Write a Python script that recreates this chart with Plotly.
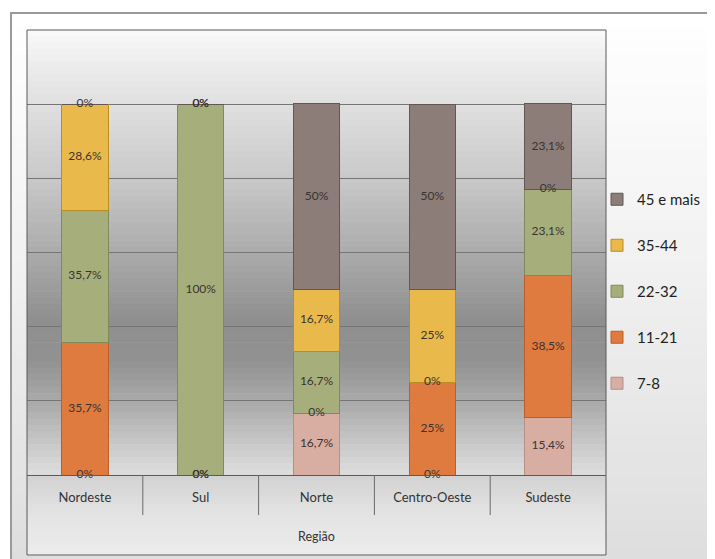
import plotly.graph_objects as go

regions = ["Nordeste", "Sul", "Norte", "Centro-Oeste", "Sudeste"]
series_names = ["7-8", "11-21", "22-32", "35-44", "45 e mais"]
v_7_8 = [0, 0, 16.7, 0, 15.4]
v_11_21 = [35.7, 0, 0, 25, 38.5]
v_22_32 = [35.7, 100, 16.7, 0, 23.1]
v_35_44 = [28.6, 0, 16.7, 25, 0]
v_45_mais = [0, 0, 50, 50, 23.1]
series_values = [v_7_8, v_11_21, v_22_32, v_35_44, v_45_mais]

colors = ["#D8AEA3", "#E07B3F", "#A6AF7C", "#E9B94C", "#8C7D78"]
line_colors = ["#B38F86", "#B95F2B", "#80895B", "#BC8C24", "#625754"]

OFF = 8  # page body margin
W, H = 715 - OFF, 559 - OFF
L, R, T, B = 27 - OFF, 109, 30 - OFF, 84
PW, PH = W - L - R, H - T - B


def px_x(x):
    return (x - OFF - L) / PW


def px_y(y):
    return (H - B - (y - OFF)) / PH


def fmt(v):
    s = f"{v:.1f}"
    if s.endswith(".0"):
        s = s[:-2]
    return s.replace(".", ",") + "%"


fig = go.Figure()
n = len(series_names)
for i, (name, vals, c, lc) in enumerate(zip(series_names, series_values, colors, line_colors)):
    fig.add_trace(go.Bar(
        x=regions, y=vals, name=name, legendgroup=name, legendrank=n - i,
        marker=dict(color=c, line=dict(color=lc, width=1)),
        width=0.4, hoverinfo="skip",
    ))

# data labels (including zero segments)
lx, ly, lt = [], [], []
for i, reg in enumerate(regions):
    base = 0
    for vals in series_values:
        v = vals[i]
        lx.append(reg)
        ly.append(base + v / 2)
        lt.append(fmt(v))
        base += v
fig.add_trace(go.Scatter(
    x=lx, y=ly, text=lt, mode="text", showlegend=False,
    textfont=dict(family="Lato, sans-serif", size=12, color="#3a3330"),
    cliponaxis=False, hoverinfo="skip",
))

shapes = []


def gradient(x0, x1, y0, y1, stops, n=70):
    # stops: list of (pixel_y, gray) in reference pixel coords
    step = (y1 - y0) / n
    for k in range(n):
        ya = y0 + k * step
        yb = ya + step + 0.6
        ym = ya + step / 2
        g = stops[-1][1]
        for (pa, ga), (pb, gb) in zip(stops[:-1], stops[1:]):
            if pa <= ym <= pb:
                t = (ym - pa) / (pb - pa)
                g = ga + (gb - ga) * t
                break
        g = int(round(g))
        shapes.append(dict(type="rect", xref="paper", yref="paper",
                           x0=px_x(x0), x1=px_x(x1), y0=px_y(yb), y1=px_y(ya),
                           fillcolor=f"rgb({g},{g},{g})", line=dict(width=0),
                           layer="below"))


# outer chart area
gradient(11, 716, 13, 560, [(13, 255), (200, 245), (400, 232), (560, 222)], n=40)
# plot area
gradient(27, 606, 30, 476, [(30, 250), (60, 238), (110, 222), (180, 200), (250, 172),
                            (320, 143), (360, 145), (410, 175), (450, 205), (476, 222)])
# category strip
gradient(27, 606, 476, 555, [(476, 210), (515, 228), (555, 236)], n=20)

# outer border
shapes.append(dict(type="rect", xref="paper", yref="paper",
                   x0=px_x(11), x1=px_x(716), y0=px_y(560), y1=px_y(13),
                   line=dict(color="#9a9a9a", width=2), layer="below"))
# plot frame
shapes.append(dict(type="rect", xref="paper", yref="paper",
                   x0=0, x1=1, y0=px_y(555), y1=1,
                   line=dict(color="#5a5a5a", width=1), layer="above"))
# category dividers
for k in range(len(regions) - 1):
    shapes.append(dict(type="line", xref="x", yref="paper",
                       x0=k + 0.5, x1=k + 0.5, y0=0, y1=px_y(515),
                       line=dict(color="#6a6a6a", width=1)))

fig.update_layout(
    width=W, height=H,
    margin=dict(l=L, r=R, t=T, b=B, autoexpand=False),
    paper_bgcolor="white", plot_bgcolor="rgba(0,0,0,0)",
    barmode="stack", bargap=0.6,
    font=dict(family="Lato, sans-serif", color="#333333"),
    shapes=shapes,
    showlegend=True,
    legend=dict(x=px_x(597), y=px_y(183), xanchor="left", yanchor="top",
                traceorder="grouped", tracegroupgap=23.5,
                font=dict(size=15, color="#222222"),
                bgcolor="rgba(0,0,0,0)", itemwidth=30),
    xaxis=dict(showgrid=False, showline=True, linecolor="#5a5a5a",
               tickfont=dict(size=13, color="#333333"), ticks="",
               ticklabelstandoff=10, automargin=False,
               title=dict(text="Região", font=dict(size=12.5, color="#333333"), standoff=28)),
    yaxis=dict(range=[0, 120], dtick=20, showticklabels=False, automargin=False,
               showgrid=True, gridcolor="#757575", gridwidth=1, zeroline=False),
)

fig.write_html("out.html")
